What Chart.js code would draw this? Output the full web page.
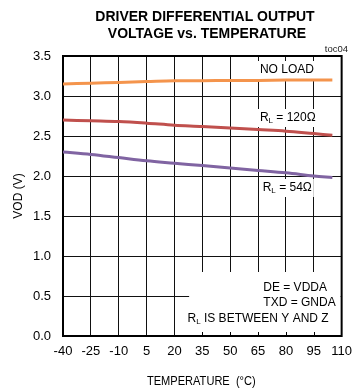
<!DOCTYPE html>
<html>
<head>
<meta charset="utf-8">
<script src="https://cdn.jsdelivr.net/npm/chart.js@4/dist/chart.umd.min.js"></script>
<style>
  html, body { margin: 0; padding: 0; background: #fff; }
  #wrap { width: 360px; height: 390px; }
</style>
</head>
<body>
<div id="wrap"><canvas id="c" width="360" height="390"></canvas></div>
<script>
// Measurement temperatures (°C) and differential output voltage (V)
const temperatures = [-40, -25, -10, 5, 20, 35, 50, 65, 80, 95, 105];
const vodNoLoad    = [3.15, 3.16, 3.17, 3.18, 3.19, 3.19, 3.195, 3.195, 3.2, 3.2, 3.2];
const vod120       = [2.70, 2.69, 2.68, 2.66, 2.635, 2.62, 2.60, 2.58, 2.56, 2.53, 2.51];
const vod54        = [2.30, 2.27, 2.23, 2.19, 2.16, 2.13, 2.10, 2.07, 2.04, 2.00, 1.98];

// Axis tick values
const xTicks = [-40, -25, -10, 5, 20, 35, 50, 65, 80, 95, 110];
const yTicks = [0, 0.5, 1.0, 1.5, 2.0, 2.5, 3.0, 3.5];

const SANS = '"Liberation Sans", Arial, Helvetica, sans-serif';

function toPoints(ys) {
  return temperatures.map((t, i) => ({ x: t, y: ys[i] }));
}

// Draws "R" with a subscript "L" followed by the rest of the string
function drawRL(ctx, x, y, rest, size) {
  ctx.font = size + 'px ' + SANS;
  ctx.textAlign = 'left';
  ctx.textBaseline = 'middle';
  ctx.fillText('R', x, y);
  let w = ctx.measureText('R').width;
  ctx.font = (size - 4) + 'px ' + SANS;
  ctx.fillText('L', x + w, y + 3);
  w += ctx.measureText('L').width;
  ctx.font = size + 'px ' + SANS;
  ctx.fillText(rest, x + w, y);
  w += ctx.measureText(rest).width;
  return w;
}
function rlWidth(ctx, rest, size) {
  ctx.font = size + 'px ' + SANS;
  let w = ctx.measureText('R').width + ctx.measureText(rest).width;
  ctx.font = (size - 4) + 'px ' + SANS;
  return w + ctx.measureText('L').width;
}

const panelDecor = {
  id: 'panelDecor',
  beforeDatasetsDraw(chart) {
    const ctx = chart.ctx;
    const xs = chart.scales.x, ys = chart.scales.y;
    const a = chart.chartArea;
    const fs = 12;
    ctx.save();
    ctx.fillStyle = '#000';

    // curve labels on white backing
    const labels = [
      { t: 66, v: 3.325, text: 'NO LOAD', rl: false },
      { t: 66, v: 2.725, text: ' = 120Ω', rl: true },
      { t: 67.5, v: 1.85, text: ' = 54Ω', rl: true }
    ];
    labels.forEach(l => {
      const px = xs.getPixelForValue(l.t);
      const py = ys.getPixelForValue(l.v);
      let w;
      if (l.rl) { w = rlWidth(ctx, l.text, fs); }
      else { ctx.font = fs + 'px ' + SANS; w = ctx.measureText(l.text).width; }
      ctx.fillStyle = '#fff';
      ctx.fillRect(px - 2, py - 9, w + 4, 18);
      ctx.fillStyle = '#000';
      if (l.rl) drawRL(ctx, px, py, l.text, fs);
      else {
        ctx.font = fs + 'px ' + SANS;
        ctx.textAlign = 'left';
        ctx.textBaseline = 'middle';
        ctx.fillText(l.text, px, py);
      }
    });

    // conditions note in the lower right
    const bx = xs.getPixelForValue(27.9);
    const by = ys.getPixelForValue(0.8);
    ctx.fillStyle = '#fff';
    ctx.fillRect(bx, by, a.right - 1 - bx, a.bottom - 1 - by);
    ctx.fillStyle = '#000';
    ctx.font = fs + 'px ' + SANS;
    ctx.textAlign = 'right';
    ctx.textBaseline = 'middle';
    ctx.fillText('DE = VDDA', xs.getPixelForValue(102.1), ys.getPixelForValue(0.6));
    ctx.fillText('TXD = GNDA', xs.getPixelForValue(106.8), ys.getPixelForValue(0.4125));
    const noteRest = ' IS BETWEEN Y AND Z';
    const nw = rlWidth(ctx, noteRest, fs);
    drawRL(ctx, xs.getPixelForValue(103) - nw, ys.getPixelForValue(0.2125), noteRest, fs);

    // short inner ticks along the bottom edge under the note
    ctx.strokeStyle = '#000';
    ctx.lineWidth = 1;
    xTicks.forEach(t => {
      const px = Math.round(xs.getPixelForValue(t)) + 0.5;
      if (px > bx && px < a.right - 2) {
        ctx.beginPath();
        ctx.moveTo(px, a.bottom);
        ctx.lineTo(px, a.bottom - 4);
        ctx.stroke();
      }
    });

    // top and right frame edges
    ctx.lineWidth = 2;
    ctx.beginPath();
    ctx.moveTo(a.left - 1, a.top);
    ctx.lineTo(a.right, a.top);
    ctx.lineTo(a.right, a.bottom + 1);
    ctx.stroke();
    ctx.restore();
  },
  afterDraw(chart) {
    const ctx = chart.ctx;
    const a = chart.chartArea;
    ctx.save();
    ctx.fillStyle = '#000';
    ctx.textAlign = 'center';
    ctx.textBaseline = 'middle';
    ctx.font = 'bold 14px ' + SANS;
    ctx.fillText('DRIVER DIFFERENTIAL OUTPUT', 205, 17);
    ctx.fillText('VOLTAGE vs. TEMPERATURE', 207, 34);

    // condensed x-axis caption
    ctx.save();
    ctx.translate((a.left + a.right) / 2 - 1, 381);
    ctx.scale(0.82, 1);
    ctx.font = '13.5px ' + SANS;
    ctx.fillText('TEMPERATURE  (°C)', 0, 0);
    ctx.restore();

    ctx.font = '9.5px ' + SANS;
    ctx.textAlign = 'right';
    ctx.fillStyle = '#222';
    ctx.fillText('toc04', 348, 49);
    ctx.restore();
  }
};

new Chart(document.getElementById('c'), {
  type: 'line',
  data: {
    datasets: [
      { label: 'NO LOAD', data: toPoints(vodNoLoad), borderColor: '#F4944C', borderWidth: 3, pointRadius: 0, tension: 0.35, fill: false },
      { label: 'RL = 120Ω', data: toPoints(vod120), borderColor: '#C0504D', borderWidth: 3, pointRadius: 0, tension: 0.35, fill: false },
      { label: 'RL = 54Ω', data: toPoints(vod54), borderColor: '#8064A2', borderWidth: 3, pointRadius: 0, tension: 0.35, fill: false }
    ]
  },
  options: {
    responsive: false,
    animation: false,
    devicePixelRatio: 1,
    layout: { padding: { top: 56, right: 12, left: 0, bottom: 0 } },
    plugins: { legend: { display: false }, tooltip: { enabled: false } },
    scales: {
      x: {
        type: 'linear',
        min: -40, max: 110,
        afterBuildTicks: s => { s.ticks = xTicks.map(v => ({ value: v })); },
        afterFit: s => { s.height = 54; },
        grid: { color: '#111', lineWidth: 1, drawTicks: false },
        border: { display: true, color: '#000', width: 2 },
        ticks: { color: '#000', font: { family: SANS, size: 13 }, padding: 8, maxRotation: 0, autoSkip: false }
      },
      y: {
        min: 0, max: 3.5,
        afterBuildTicks: s => { s.ticks = yTicks.map(v => ({ value: v })); },
        afterFit: s => { s.width = 63; },
        grid: { color: '#111', lineWidth: 1, drawTicks: false },
        border: { display: true, color: '#000', width: 2 },
        ticks: { color: '#000', font: { family: SANS, size: 13 }, padding: 12, callback: v => Number(v).toFixed(1) },
        title: { display: true, text: 'VOD (V)', color: '#000', font: { family: SANS, size: 12 }, padding: { top: 11, bottom: 0 } }
      }
    }
  },
  plugins: [panelDecor]
});
</script>
</body>
</html>
